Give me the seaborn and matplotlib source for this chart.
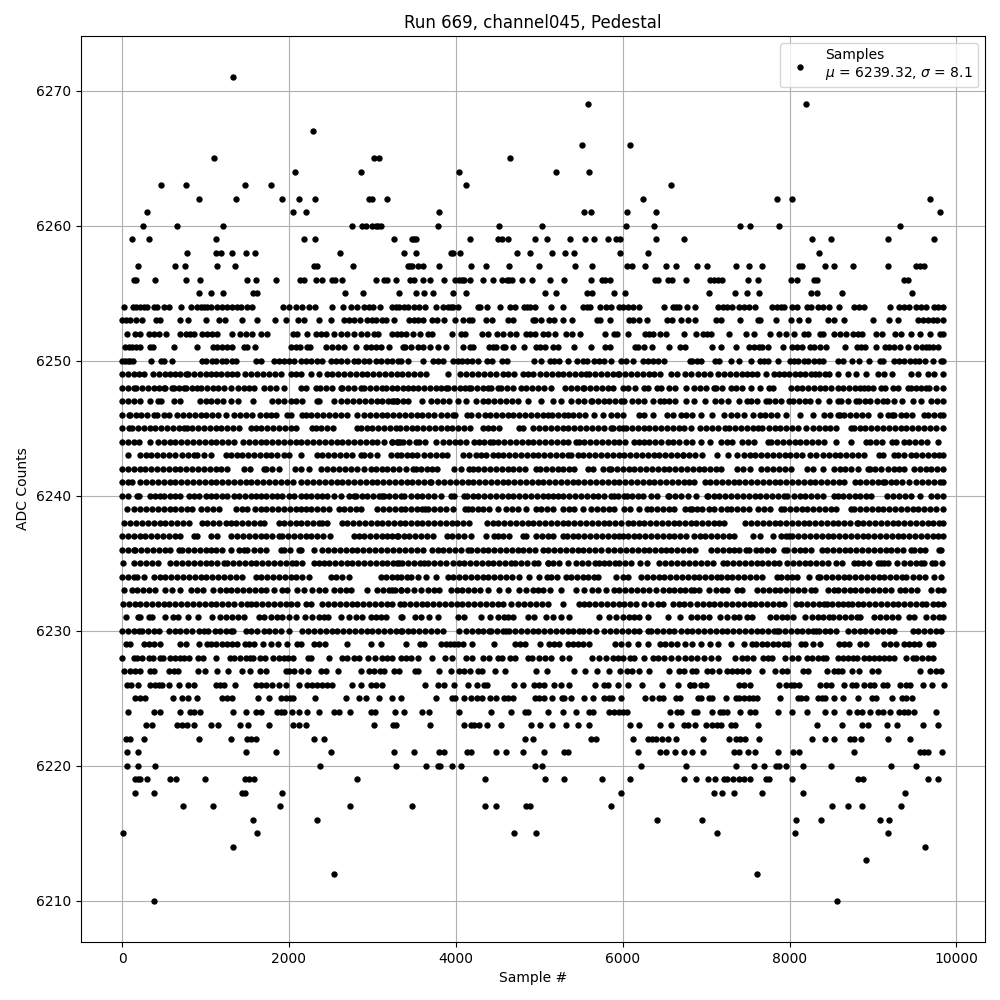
import pandas as pd
import seaborn as sns
import matplotlib
matplotlib.use("Agg")
import matplotlib.pyplot as plt

# Sample numbers seen at each ADC level.
adc_6271 = [1335]
adc_6269 = [5589, 8199]
adc_6267 = [2288]
adc_6266 = [5517, 6093]
adc_6265 = [1100, 3020, 3084, 4653]
adc_6264 = [2072, 2864, 4041, 5205, 5601]
adc_6263 = [464, 764, 1472, 1784, 4125, 6585]
adc_6262 = [920, 1364, 1916, 2120, 2312, 2960, 3000, 3176, 6249, 7851, 8031, 9687]
adc_6261 = [296, 2048, 2204, 3801, 5541, 5625, 6057, 6405, 9807]
adc_6260 = [248, 656, 1208, 2756, 2876, 2924, 3000, 3040, 3072, 3100, 3789, 4521, 5037, 6045, 6381, 7407, 7527, 7875, 9327]
adc_6259 = [116, 320, 1124, 2180, 2312, 3260, 3469, 3501, 3521, 4173, 4501, 4549, 4629, 4953, 5097, 5373, 5553, 5661, 5829, 5925, 5973, 6405, 6729, 8271, 8499, 9183, 9735]
adc_6258 = [776, 1124, 1184, 1316, 1484, 1592, 2612, 3381, 3525, 3941, 3965, 4053, 4737, 4893, 5157, 5313, 5421, 5973, 6309, 8355]
adc_6257 = [188, 632, 752, 1136, 1352, 2300, 2340, 2768, 3421, 3453, 3477, 3549, 3601, 3801, 4185, 4365, 4641, 5001, 5433, 5637, 6057, 6117, 6273, 6525, 6633, 6891, 7011, 7359, 7515, 7671, 8115, 8151, 8427, 8535, 8763, 9183, 9519, 9567, 9615]
adc_6256 = [140, 168, 392, 764, 932, 1496, 1604, 1844, 2132, 2184, 2324, 2400, 2520, 2548, 2640, 3044, 3140, 3172, 3285, 3453, 3501, 3609, 3693, 3861, 3993, 4041, 4073, 4101, 4173, 4329, 4449, 4549, 4613, 4641, 4669, 4797, 4917, 5133, 5301, 5625, 5757, 5789, 5853, 6389, 6421, 6549, 6589, 6753, 7047, 7095, 7143, 7191, 7503, 7623, 8019, 8091, 8295, 8327, 9375, 9423]
adc_6255 = [920, 1064, 1208, 1572, 1612, 2672, 2888, 3321, 3525, 3621, 3729, 3969, 4125, 5073, 5205, 5577, 5637, 5901, 6033, 7035, 7347, 7491, 7635, 8259, 8327, 8631, 9471]
adc_6254 = [20, 128, 172, 220, 260, 300, 380, 420, 508, 560, 704, 824, 896, 940, 980, 1020, 1060, 1140, 1200, 1260, 1320, 1380, 1420, 1500, 1560, 1928, 2000, 2080, 2152, 2240, 2312, 2520, 2648, 2748, 2820, 2900, 2960, 3008, 3092, 3241, 3281, 3321, 3381, 3429, 3493, 3561, 3633, 3761, 3849, 3901, 3941, 3969, 4029, 4261, 4293, 4377, 4533, 4653, 4713, 4813, 4853, 4893, 4953, 5145, 5289, 5521, 5569, 5613, 5733, 5805, 5861, 5953, 6009, 6061, 6129, 6201, 6501, 6601, 6641, 6669, 6765, 6867, 7143, 7199, 7255, 7311, 7395, 7455, 7511, 7587, 7791, 7847, 7895, 7935, 8031, 8095, 8211, 8259, 8343, 8403, 8475, 8595, 8775, 8835, 8887, 9207, 9315, 9375, 9435, 9519, 9575, 9639, 9735, 9783, 9843]
adc_6253 = [0, 52, 100, 172, 240, 412, 452, 692, 784, 1004, 1160, 1228, 1436, 1616, 1832, 1964, 2108, 2180, 2360, 2504, 2660, 2720, 2780, 2852, 2940, 3000, 3040, 3120, 3160, 3261, 3441, 3493, 3549, 3601, 3709, 3777, 3861, 3993, 4089, 4161, 4197, 4365, 4437, 4629, 4685, 4921, 4953, 5025, 5121, 5173, 5289, 5393, 5693, 5733, 5853, 6081, 6125, 6201, 6297, 6537, 6589, 6693, 6783, 6867, 7119, 7183, 7407, 7623, 7647, 7835, 8019, 8115, 8223, 8463, 8535, 8655, 9003, 9195, 9295, 9543, 9599, 9663, 9715, 9767, 9845]
adc_6252 = [60, 160, 212, 320, 380, 440, 532, 700, 760, 812, 860, 960, 1020, 1080, 1140, 1316, 1412, 1480, 1552, 1660, 1740, 2052, 2100, 2212, 2320, 2380, 2440, 2540, 2620, 2700, 2780, 2860, 2940, 3020, 3068, 3241, 3293, 3341, 3401, 3489, 3573, 3661, 3709, 3957, 4061, 4113, 4317, 4389, 4489, 4561, 4653, 4721, 4841, 4893, 4953, 5041, 5101, 5185, 5321, 5393, 5493, 5793, 5901, 5933, 6069, 6273, 6321, 6361, 6453, 6525, 6729, 6879, 6963, 7007, 7059, 7275, 7479, 7575, 7767, 7875, 7963, 8055, 8175, 8223, 8367, 8399, 8535, 8607, 8675, 8763, 8815, 8871, 9039, 9111, 9267, 9335, 9459, 9567, 9687, 9807, 9845]
adc_6251 = [40, 80, 120, 172, 220, 340, 372, 620, 896, 1092, 1140, 1200, 1260, 1320, 1460, 1500, 1592, 2020, 2080, 2128, 2212, 2252, 2444, 2520, 2588, 2660, 2804, 2920, 2980, 3040, 3100, 3204, 3361, 3389, 3465, 3541, 3609, 3693, 3781, 3881, 4089, 4173, 4201, 4401, 4441, 4485, 4561, 4589, 4689, 4821, 4961, 5013, 5073, 5161, 5229, 5413, 5625, 5793, 5853, 6153, 6189, 6261, 6357, 6561, 6681, 6749, 7071, 7179, 7359, 7515, 7575, 7635, 7675, 7743, 7923, 8035, 8095, 8155, 8247, 8295, 8367, 8435, 8667, 8803, 8855, 8907, 9039, 9147, 9195, 9247, 9327, 9415, 9519, 9583, 9635, 9675, 9723, 9783]
adc_6250 = [0, 40, 70, 100, 130, 344, 472, 500, 596, 960, 1000, 1080, 1130, 1200, 1240, 1320, 1360, 1600, 1660, 1820, 1880, 1940, 2000, 2060, 2140, 2200, 2260, 2340, 2400, 2500, 2560, 2620, 2700, 2780, 2830, 2900, 2960, 3040, 3100, 3180, 3241, 3301, 3341, 3421, 3609, 3721, 3781, 3841, 3961, 4021, 4069, 4137, 4197, 4261, 4377, 4437, 4557, 4617, 4941, 5021, 5133, 5181, 5241, 5349, 5453, 5521, 5569, 5661, 5721, 5781, 5861, 5981, 6041, 6121, 6241, 6301, 6361, 6421, 6493, 6801, 6831, 6895, 6943, 7107, 7155, 7299, 7395, 7543, 7647, 7695, 7743, 7859, 8007, 8055, 8103, 8175, 8223, 8295, 8355, 8403, 8583, 8643, 8751, 8835, 8955, 9087, 9123, 9255, 9315, 9367, 9447, 9507, 9555, 9627, 9715, 9819, 9845]
adc_6249 = [0, 70, 140, 200, 260, 368, 440, 510, 570, 640, 700, 760, 790, 860, 930, 1000, 1070, 1120, 1190, 1260, 1320, 1380, 1470, 1550, 1620, 1690, 1760, 1830, 1900, 2030, 2090, 2150, 2260, 2360, 2460, 2520, 2590, 2660, 2730, 2800, 2870, 2940, 3010, 3080, 3150, 3220, 3290, 3360, 3430, 3500, 3570, 3640, 3901, 4050, 4120, 4190, 4270, 4340, 4410, 4480, 4560, 4620, 4700, 4810, 4870, 4930, 5010, 5081, 5150, 5220, 5290, 5360, 5430, 5500, 5561, 5601, 5670, 5740, 5810, 5880, 5941, 5961, 6030, 6100, 6170, 6240, 6321, 6381, 6453, 6581, 6650, 6749, 6815, 6903, 6975, 7047, 7143, 7215, 7285, 7355, 7425, 7495, 7555, 7615, 7715, 7815, 7875, 7935, 7995, 8060, 8125, 8190, 8255, 8307, 8355, 8420, 8475, 8583, 8695, 8795, 8919, 9055, 9135, 9231, 9455, 9535, 9655, 9735, 9835]
adc_6248 = [0, 70, 140, 172, 240, 310, 380, 445, 500, 520, 600, 620, 680, 740, 760, 840, 892, 948, 1015, 1085, 1150, 1220, 1308, 1388, 1460, 1520, 1580, 1700, 1770, 1840, 1940, 2140, 2210, 2320, 2372, 2440, 2510, 2620, 2640, 2710, 2780, 2860, 2900, 2970, 3040, 3120, 3160, 3230, 3300, 3370, 3421, 3481, 3550, 3620, 3690, 3760, 3820, 3881, 3909, 3980, 4050, 4110, 4161, 4181, 4250, 4320, 4381, 4421, 4501, 4541, 4610, 4680, 4781, 4841, 4910, 4980, 5061, 5141, 5309, 5380, 5450, 5521, 5541, 5610, 5680, 5750, 5821, 5881, 6001, 6069, 6153, 6261, 6301, 6413, 6461, 6561, 6621, 6753, 6855, 6927, 7000, 7095, 7115, 7185, 7295, 7355, 7425, 7543, 7647, 7755, 7803, 8015, 8085, 8150, 8220, 8290, 8360, 8430, 8500, 8575, 8640, 8710, 8780, 8840, 8895, 8935, 8995, 9095, 9143, 9235, 9305, 9415, 9455, 9515, 9575, 9635, 9675, 9760, 9835]
adc_6247 = [0, 70, 140, 220, 340, 428, 468, 620, 700, 932, 1004, 1070, 1140, 1210, 1308, 1388, 1572, 1800, 1870, 1940, 2020, 2090, 2160, 2340, 2360, 2540, 2620, 2700, 2770, 2840, 2910, 2980, 3050, 3120, 3190, 3260, 3300, 3233, 3293, 3361, 3431, 3600, 3701, 3770, 3841, 3920, 4021, 4121, 4245, 4321, 4390, 4460, 4530, 4600, 4670, 4740, 4861, 5021, 5161, 5261, 5381, 5461, 5531, 5621, 5629, 5700, 5770, 5840, 5910, 5980, 6021, 6109, 6181, 6250, 6369, 6445, 6501, 6561, 6621, 6761, 6855, 6987, 7107, 7175, 7263, 7395, 7495, 7535, 7605, 7715, 7755, 7825, 7895, 7995, 8047, 8119, 8183, 8247, 8335, 8475, 8575, 8615, 8695, 8795, 8835, 8907, 8967, 9045, 9115, 9167, 9255, 9343, 9475, 9575, 9695, 9771, 9845]
adc_6246 = [0, 80, 100, 170, 228, 300, 380, 420, 500, 560, 660, 730, 800, 870, 940, 1010, 1080, 1150, 1240, 1340, 1412, 1480, 1560, 1652, 1728, 1780, 1850, 1980, 2020, 2160, 2200, 2270, 2340, 2410, 2480, 2550, 2620, 2690, 2820, 2900, 2970, 3040, 3110, 3180, 3250, 3320, 3390, 3460, 3530, 3600, 3670, 3740, 3820, 3900, 3965, 3990, 4133, 4181, 4260, 4349, 4413, 4480, 4550, 4620, 4690, 4760, 4830, 4900, 4970, 5040, 5101, 5149, 5225, 5293, 5341, 5410, 5480, 5550, 5661, 5769, 5861, 5933, 6001, 6201, 6261, 6361, 6533, 6601, 6693, 6760, 6830, 6943, 7075, 7215, 7295, 7375, 7455, 7567, 7640, 7710, 7780, 7850, 7955, 8127, 8279, 8407, 8480, 8575, 8607, 8655, 8730, 8800, 8870, 8935, 9083, 9180, 9223, 9255, 9330, 9400, 9470, 9607, 9655, 9730, 9800, 9845]
adc_6245 = [0, 80, 120, 190, 260, 330, 400, 470, 540, 610, 680, 740, 772, 840, 910, 980, 1050, 1120, 1190, 1260, 1330, 1400, 1540, 1600, 1670, 1740, 1810, 1880, 1950, 2020, 2090, 2280, 2320, 2390, 2460, 2530, 2820, 2860, 2930, 3000, 3070, 3140, 3210, 3280, 3330, 3400, 3470, 3540, 3610, 3680, 3750, 3820, 3890, 3960, 4030, 4100, 4170, 4321, 4381, 4450, 4520, 4761, 4801, 4921, 5000, 5070, 5140, 5210, 5280, 5350, 5420, 5490, 5560, 5630, 5700, 5770, 5861, 5881, 5950, 6001, 6041, 6110, 6180, 6250, 6320, 6390, 6460, 6530, 6600, 6670, 6740, 6820, 6923, 7000, 7070, 7140, 7230, 7275, 7350, 7420, 7490, 7563, 7623, 7675, 7750, 7820, 7890, 7960, 8030, 8100, 8195, 8275, 8350, 8420, 8490, 8560, 8735, 8767, 8840, 8910, 8980, 9050, 9120, 9190, 9260, 9330, 9400, 9470, 9540, 9610, 9680, 9750, 9845]
adc_6244 = [0, 70, 140, 200, 340, 428, 500, 570, 640, 710, 780, 850, 920, 990, 1060, 1130, 1200, 1270, 1340, 1452, 1520, 1590, 1660, 1730, 1800, 1870, 1940, 2010, 2080, 2150, 2220, 2290, 2360, 2430, 2500, 2570, 2640, 2710, 2780, 2850, 2920, 2990, 3060, 3140, 3240, 3300, 3333, 3241, 3301, 3370, 3440, 3521, 3561, 3629, 3761, 3850, 3921, 3990, 4050, 4120, 4221, 4281, 4341, 4413, 4441, 4510, 4580, 4650, 4720, 4790, 4860, 4930, 5000, 5070, 5140, 5210, 5280, 5350, 5441, 5481, 5541, 5610, 5680, 5750, 5820, 5890, 5960, 6030, 6141, 6201, 6260, 6321, 6390, 6460, 6541, 6600, 6680, 6760, 6827, 6943, 7047, 7175, 7245, 7315, 7435, 7500, 7570, 7743, 7783, 7850, 7920, 7990, 8060, 8130, 8200, 8270, 8340, 8410, 8555, 8739, 8919, 8965, 9040, 9110, 9223, 9279, 9367, 9435, 9505, 9575, 9645, 9775]
adc_6243 = [72, 212, 288, 348, 420, 490, 560, 640, 720, 790, 860, 900, 980, 1068, 1240, 1300, 1372, 1440, 1510, 1580, 1650, 1720, 1790, 1860, 1940, 2000, 2140, 2340, 2400, 2470, 2540, 2610, 2680, 2750, 2860, 2900, 2970, 3050, 3220, 3290, 3341, 3410, 3480, 3540, 3620, 3690, 3760, 3830, 3890, 4081, 4160, 4241, 4301, 4361, 4441, 4501, 4570, 4640, 4710, 4780, 4850, 4920, 4990, 5060, 5130, 5200, 5270, 5340, 5381, 5461, 5530, 5600, 5670, 5740, 5810, 5880, 5950, 6020, 6090, 6160, 6230, 6300, 6370, 6440, 6510, 6580, 6650, 6720, 6727, 6800, 6870, 6947, 7127, 7263, 7375, 7450, 7520, 7590, 7660, 7730, 7800, 7870, 7940, 8010, 8080, 8150, 8245, 8315, 8395, 8470, 8540, 8610, 8680, 8750, 8820, 8890, 9075, 9115, 9255, 9295, 9367, 9450, 9520, 9590, 9660, 9730, 9795, 9845]
adc_6242 = [0, 70, 140, 210, 280, 350, 420, 490, 560, 640, 700, 770, 840, 910, 980, 1050, 1120, 1180, 1260, 1460, 1530, 1700, 1730, 1800, 1880, 2072, 2140, 2240, 2388, 2460, 2530, 2600, 2670, 2740, 2820, 2900, 2980, 3040, 3110, 3180, 3250, 3320, 3401, 3481, 3520, 3580, 3650, 3720, 3780, 3981, 4061, 4161, 4201, 4270, 4340, 4410, 4480, 4550, 4620, 4690, 4760, 4830, 4961, 5013, 5080, 5150, 5220, 5290, 5360, 5421, 5581, 5650, 5765, 5841, 5861, 5930, 6000, 6070, 6140, 6210, 6280, 6350, 6420, 6490, 6560, 6630, 6700, 6770, 6840, 6910, 6980, 7050, 7120, 7175, 7375, 7440, 7520, 7655, 7727, 7800, 7870, 7940, 8015, 8215, 8275, 8395, 8527, 8600, 8670, 8740, 8815, 8940, 8960, 9030, 9100, 9175, 9255, 9315, 9375, 9487, 9560, 9630, 9700, 9770, 9845]
adc_6241 = [0, 70, 120, 220, 290, 360, 430, 500, 570, 640, 710, 780, 850, 920, 990, 1060, 1130, 1200, 1270, 1340, 1410, 1480, 1550, 1620, 1690, 1760, 1830, 1900, 1980, 2050, 2140, 2220, 2290, 2360, 2430, 2500, 2570, 2640, 2710, 2780, 2850, 2920, 2990, 3060, 3130, 3200, 3270, 3340, 3410, 3480, 3550, 3620, 3690, 3701, 3790, 3860, 3930, 4000, 4070, 4140, 4210, 4280, 4350, 4420, 4490, 4560, 4630, 4700, 4770, 4840, 4910, 4980, 5050, 5120, 5190, 5260, 5330, 5400, 5470, 5540, 5610, 5680, 5750, 5820, 5890, 5960, 6030, 6100, 6170, 6240, 6310, 6380, 6450, 6520, 6590, 6660, 6730, 6800, 6860, 6983, 7050, 7120, 7190, 7260, 7330, 7400, 7470, 7540, 7610, 7680, 7750, 7820, 7890, 7960, 8030, 8100, 8170, 8240, 8310, 8380, 8450, 8520, 8590, 8655, 8783, 8850, 8920, 8990, 9060, 9115, 9143, 9210, 9280, 9350, 9430, 9515, 9590, 9660, 9730, 9800, 9845]
adc_6240 = [0, 70, 180, 200, 332, 400, 452, 500, 580, 640, 700, 800, 860, 920, 1000, 1060, 1120, 1200, 1260, 1340, 1400, 1470, 1540, 1600, 1660, 1720, 1800, 1860, 1920, 2000, 2060, 2140, 2200, 2260, 2340, 2400, 2460, 2540, 2620, 2720, 2780, 2800, 2870, 2940, 3010, 3080, 3120, 3140, 3200, 3270, 3340, 3381, 3461, 3530, 3600, 3670, 3740, 3821, 3941, 3980, 4100, 4133, 4200, 4270, 4340, 4410, 4480, 4550, 4620, 4690, 4760, 4830, 4900, 4970, 5040, 5110, 5161, 5230, 5281, 5361, 5430, 5500, 5570, 5640, 5710, 5780, 5860, 5900, 5941, 6021, 6053, 6113, 6181, 6241, 6341, 6410, 6540, 6561, 6630, 6700, 6780, 6875, 7015, 7020, 7090, 7160, 7230, 7300, 7370, 7440, 7510, 7580, 7650, 7720, 7790, 7860, 7935, 7975, 8050, 8120, 8190, 8260, 8330, 8400, 8535, 8575, 8640, 8710, 8780, 8850, 8920, 8980, 9167, 9240, 9310, 9380, 9450, 9560, 9695, 9770, 9845]
adc_6239 = [60, 140, 220, 292, 360, 430, 500, 570, 640, 710, 780, 840, 948, 1020, 1090, 1160, 1360, 1440, 1500, 1590, 1660, 1730, 1800, 1870, 1940, 2010, 2080, 2140, 2200, 2270, 2340, 2410, 2480, 2600, 2660, 2730, 2800, 2860, 3060, 3130, 3200, 3270, 3340, 3390, 3460, 3530, 3600, 3630, 3670, 3740, 3810, 3880, 3961, 4109, 4149, 4189, 4261, 4330, 4400, 4500, 4601, 4670, 4740, 4840, 4961, 5021, 5090, 5165, 5281, 5361, 5413, 5530, 5621, 5690, 5760, 5830, 5900, 6021, 6093, 6201, 6293, 6341, 6410, 6480, 6550, 6620, 6741, 6807, 6827, 6895, 6955, 7030, 7100, 7180, 7255, 7295, 7370, 7440, 7515, 7623, 7695, 7765, 7895, 7935, 8005, 8075, 8145, 8215, 8285, 8355, 8425, 8495, 8555, 8735, 8775, 8845, 8915, 8985, 9055, 9125, 9195, 9265, 9335, 9405, 9475, 9545, 9615, 9685, 9755, 9845]
adc_6238 = [20, 100, 170, 240, 310, 380, 450, 520, 590, 660, 730, 800, 960, 1020, 1090, 1160, 1240, 1300, 1370, 1440, 1510, 1580, 1650, 1700, 1880, 1940, 2010, 2080, 2150, 2220, 2290, 2360, 2400, 2460, 2640, 2700, 2770, 2840, 2910, 2980, 3050, 3120, 3190, 3260, 3330, 3390, 3460, 3530, 3600, 3670, 3740, 3810, 3880, 3950, 4020, 4090, 4161, 4373, 4440, 4510, 4581, 4653, 4721, 4790, 4860, 4930, 5000, 5070, 5140, 5210, 5280, 5350, 5420, 5490, 5560, 5630, 5700, 5770, 5840, 5910, 5980, 6069, 6121, 6190, 6260, 6330, 6400, 6470, 6540, 6610, 6680, 6750, 6820, 6880, 6950, 7020, 7090, 7160, 7215, 7467, 7543, 7610, 7680, 7750, 7820, 7890, 7960, 8030, 8100, 8175, 8235, 8305, 8375, 8445, 8520, 8575, 8650, 8720, 8810, 8815, 8885, 8955, 9025, 9095, 9165, 9235, 9305, 9375, 9445, 9515, 9585, 9655, 9725, 9795, 9845]
adc_6237 = [0, 70, 140, 210, 280, 350, 420, 490, 560, 630, 700, 860, 900, 1060, 1140, 1308, 1380, 1450, 1520, 1590, 1660, 1730, 1800, 1880, 1920, 1990, 2060, 2130, 2200, 2270, 2340, 2410, 2490, 2780, 2840, 2900, 2970, 3040, 3110, 3180, 3292, 3241, 3309, 3381, 3441, 3510, 3580, 3650, 3730, 3893, 3960, 4030, 4100, 4180, 4361, 4461, 4501, 4570, 4640, 4801, 4841, 4961, 5030, 5100, 5170, 5281, 5333, 5400, 5470, 5540, 5610, 5680, 5750, 5820, 5890, 5960, 6001, 6061, 6130, 6200, 6270, 6340, 6410, 6480, 6550, 6620, 6690, 6760, 6855, 6923, 6990, 7060, 7130, 7200, 7270, 7335, 7567, 7640, 7807, 7900, 7955, 7995, 8035, 8105, 8175, 8245, 8315, 8385, 8455, 8525, 8595, 8665, 8735, 8805, 8875, 8945, 9015, 9085, 9155, 9225, 9295, 9365, 9435, 9505, 9575, 9645, 9715, 9785, 9845]
adc_6236 = [0, 70, 140, 160, 230, 300, 370, 440, 510, 580, 680, 720, 790, 860, 930, 1000, 1060, 1130, 1200, 1300, 1400, 1460, 1500, 1580, 1650, 1720, 1900, 1940, 2010, 2120, 2140, 2300, 2400, 2470, 2540, 2610, 2680, 2750, 2820, 2890, 2960, 3030, 3100, 3180, 3250, 3321, 3390, 3460, 3530, 3610, 3709, 3781, 3850, 3920, 3989, 4060, 4149, 4181, 4250, 4320, 4390, 4460, 4530, 4600, 4670, 4740, 4810, 4880, 4950, 5041, 5110, 5180, 5250, 5320, 5390, 5460, 5530, 5600, 5670, 5740, 5821, 5901, 5970, 6040, 6110, 6180, 6250, 6320, 6390, 6460, 6521, 6581, 6650, 6720, 6790, 6863, 7063, 7130, 7200, 7270, 7340, 7400, 7475, 7515, 7595, 7663, 7730, 7800, 7935, 7975, 8050, 8120, 8190, 8255, 8383, 8450, 8520, 8590, 8660, 8730, 8800, 8870, 8940, 9010, 9080, 9150, 9220, 9290, 9360, 9455, 9487, 9560, 9625, 9795, 9810]
adc_6235 = [12, 140, 220, 290, 360, 430, 580, 650, 720, 790, 860, 930, 1000, 1070, 1140, 1220, 1260, 1330, 1400, 1470, 1540, 1610, 1680, 1750, 1820, 1890, 1960, 2040, 2088, 2160, 2300, 2360, 2420, 2480, 2550, 2620, 2690, 2760, 2830, 2900, 2970, 3040, 3110, 3180, 3250, 3321, 3290, 3360, 3430, 3500, 3570, 3621, 3669, 3740, 3810, 3880, 3961, 4033, 4100, 4170, 4240, 4310, 4380, 4450, 4520, 4590, 4661, 4709, 4780, 4850, 4933, 4989, 5101, 5103, 5170, 5240, 5341, 5441, 5510, 5580, 5669, 5721, 5781, 5841, 5909, 5960, 6030, 6100, 6213, 6293, 6441, 6510, 6580, 6650, 6720, 6800, 6870, 6940, 7010, 7080, 7207, 7255, 7325, 7395, 7465, 7535, 7605, 7675, 7745, 7815, 7875, 7975, 8040, 8110, 8180, 8250, 8320, 8390, 8455, 8555, 8627, 8775, 8815, 8885, 8955, 9095, 9063, 9135, 9183, 9287, 9375, 9445, 9515, 9575, 9615, 9703, 9743, 9830]
adc_6234 = [0, 70, 140, 180, 268, 380, 450, 520, 590, 660, 730, 800, 870, 940, 1010, 1080, 1150, 1220, 1290, 1360, 1440, 1600, 1670, 1740, 1810, 1880, 1950, 2020, 2090, 2160, 2240, 2500, 2560, 2630, 2720, 3100, 3160, 3230, 3300, 3340, 3410, 3461, 3541, 3641, 3761, 3901, 3970, 4040, 4110, 4180, 4250, 4320, 4390, 4460, 4530, 4600, 4670, 4760, 4881, 4993, 5093, 5141, 5213, 5320, 5381, 5450, 5520, 5590, 5661, 5709, 5921, 6001, 6061, 6221, 6290, 6360, 6430, 6500, 6570, 6640, 6710, 6780, 6850, 6920, 6990, 7060, 7127, 7175, 7245, 7315, 7385, 7455, 7525, 7595, 7675, 7847, 7895, 7965, 8035, 8095, 8235, 8335, 8367, 8437, 8507, 8577, 8647, 8717, 8787, 8857, 8927, 8997, 9067, 9137, 9207, 9277, 9343, 9395, 9475, 9550, 9620, 9735, 9815]
adc_6233 = [20, 120, 180, 250, 320, 392, 520, 600, 700, 820, 900, 970, 1092, 1172, 1240, 1310, 1380, 1450, 1520, 1590, 1660, 1720, 1820, 1920, 1980, 2100, 2180, 2280, 2360, 2430, 2540, 2610, 2680, 2740, 2940, 3060, 3130, 3200, 3270, 3340, 3241, 3341, 3413, 3501, 3581, 3661, 3741, 3801, 3941, 4009, 4080, 4150, 4220, 4290, 4381, 4521, 4629, 4761, 4841, 4921, 4981, 5050, 5133, 5261, 5441, 5540, 5629, 5701, 5801, 5901, 5961, 6030, 6100, 6170, 6240, 6321, 6405, 6481, 6550, 6620, 6690, 6741, 6815, 6855, 6915, 7035, 7115, 7185, 7255, 7367, 7435, 7607, 7680, 7750, 7820, 7890, 7960, 8030, 8100, 8175, 8255, 8307, 8455, 8535, 8583, 8650, 8720, 8790, 8860, 8930, 9000, 9070, 9140, 9210, 9327, 9383, 9455, 9530, 9695, 9775, 9845]
adc_6232 = [12, 80, 150, 220, 290, 360, 430, 500, 560, 640, 710, 780, 850, 920, 990, 1060, 1130, 1200, 1270, 1340, 1420, 1500, 1540, 1610, 1680, 1750, 1820, 1890, 1960, 2030, 2100, 2200, 2260, 2400, 2470, 2540, 2610, 2680, 2750, 2820, 2890, 2960, 3030, 3100, 3170, 3240, 3330, 3380, 3450, 3520, 3590, 3660, 3730, 3800, 3870, 3940, 4010, 4080, 4150, 4220, 4290, 4360, 4430, 4500, 4570, 4661, 4741, 4821, 4893, 4961, 5030, 5101, 5281, 5481, 5541, 5601, 5670, 5740, 5810, 5880, 5950, 6020, 6090, 6160, 6261, 6341, 6421, 6481, 6601, 6670, 6740, 6810, 6890, 6960, 7030, 7100, 7170, 7240, 7310, 7380, 7450, 7520, 7590, 7660, 7730, 7800, 7870, 7935, 8075, 8140, 8210, 8280, 8350, 8415, 8447, 8510, 8580, 8640, 8700, 8743, 8815, 8885, 8955, 9025, 9095, 9165, 9235, 9305, 9375, 9445, 9515, 9585, 9635, 9715, 9783, 9845]
adc_6231 = [44, 188, 220, 320, 360, 512, 612, 672, 792, 908, 1080, 1172, 1240, 1320, 1388, 1460, 1640, 1700, 1780, 1860, 1920, 2000, 2080, 2192, 2280, 2360, 2420, 2468, 2620, 2720, 2800, 2880, 2980, 3040, 3100, 3160, 3340, 3357, 3509, 3581, 3681, 3789, 4021, 4093, 4305, 4413, 4500, 4581, 4629, 4681, 4869, 4941, 5081, 5160, 5261, 5361, 5721, 5841, 5921, 6000, 6070, 6140, 6201, 6301, 6549, 6681, 6813, 6890, 6967, 7035, 7167, 7255, 7335, 7400, 7495, 7555, 7767, 7835, 7905, 7975, 8047, 8183, 8263, 8335, 8405, 8475, 8515, 8590, 8665, 8735, 8805, 8847, 9015, 9085, 9155, 9225, 9295, 9435, 9495, 9635, 9715, 9795, 9845]
adc_6230 = [0, 70, 140, 200, 240, 310, 380, 440, 560, 630, 700, 770, 840, 920, 980, 1030, 1110, 1172, 1240, 1300, 1332, 1480, 1550, 1620, 1700, 1760, 1830, 1900, 2000, 2160, 2230, 2300, 2370, 2440, 2510, 2580, 2650, 2720, 2790, 2860, 2930, 3000, 3070, 3140, 3210, 3280, 3340, 3360, 3421, 3481, 3561, 3630, 3700, 3780, 3841, 4041, 4121, 4190, 4260, 4321, 4400, 4421, 4490, 4560, 4601, 4641, 4710, 4780, 4850, 4920, 4990, 5060, 5130, 5200, 5270, 5340, 5410, 5480, 5521, 5601, 5681, 5781, 5850, 5920, 5990, 6060, 6130, 6200, 6301, 6341, 6410, 6480, 6550, 6620, 6695, 6765, 6835, 6905, 6975, 7045, 7115, 7185, 7255, 7325, 7395, 7465, 7535, 7605, 7675, 7745, 7815, 7855, 7875, 7945, 8015, 8085, 8155, 8225, 8275, 8315, 8355, 8420, 8490, 8555, 8695, 8770, 8840, 8910, 8980, 9050, 9120, 9190, 9255, 9475, 9545, 9615, 9685, 9755, 9815]
adc_6229 = [52, 100, 260, 320, 380, 452, 700, 760, 920, 1012, 1060, 1120, 1200, 1260, 1320, 1372, 1468, 1520, 1580, 1688, 1788, 1868, 1972, 2100, 2140, 2300, 2360, 2428, 2696, 2984, 3104, 3405, 3573, 3613, 3821, 3881, 3933, 3981, 4021, 4081, 4193, 4461, 4713, 4769, 4833, 5013, 5121, 5181, 5241, 5341, 5401, 5461, 5521, 5601, 5913, 5981, 6069, 6189, 6309, 6453, 6509, 6581, 6653, 6747, 6835, 6935, 7047, 7143, 7299, 7455, 7551, 7595, 7675, 7727, 7807, 7863, 7935, 7983, 8143, 8183, 8283, 8363, 8595, 8655, 8707, 8847, 8919, 9135, 9207, 9279, 9367, 9435, 9495, 9555, 9675, 9723]
adc_6228 = [0, 140, 180, 236, 320, 372, 452, 492, 572, 640, 700, 740, 800, 912, 964, 1128, 1292, 1340, 1408, 1488, 1528, 1568, 1652, 1708, 1808, 1880, 1940, 1988, 2048, 2228, 2268, 2480, 2640, 2700, 2780, 2840, 2948, 3032, 3120, 3180, 3241, 3341, 3401, 3461, 3541, 3717, 3873, 3953, 4125, 4193, 4329, 4401, 4501, 4549, 4653, 4709, 4869, 4917, 5001, 5069, 5141, 5277, 5361, 5637, 5721, 5801, 5881, 5941, 6009, 6093, 6141, 6261, 6361, 6421, 6501, 6581, 6661, 6741, 6815, 6895, 6975, 7063, 7143, 7347, 7435, 7495, 7563, 7683, 7743, 7795, 7947, 8031, 8103, 8211, 8271, 8335, 8395, 8435, 8575, 8635, 8695, 8755, 8811, 8895, 8955, 9015, 9075, 9135, 9195, 9255, 9399, 9475, 9515, 9583, 9655, 9715]
adc_6227 = [20, 100, 160, 212, 332, 380, 560, 620, 668, 908, 988, 1136, 1268, 1436, 1532, 1652, 1720, 1960, 2000, 2060, 2140, 2228, 2380, 2444, 2588, 2860, 2960, 3020, 3092, 3140, 3261, 3321, 3513, 3549, 3801, 3945, 4041, 4101, 4173, 4261, 4317, 4473, 4593, 4965, 5097, 5421, 5553, 5697, 5841, 5973, 6057, 6117, 6201, 6321, 6561, 6669, 6735, 6835, 6883, 7015, 7075, 7155, 7255, 7315, 7375, 7427, 7503, 7671, 7827, 7915, 7967, 8163, 8223, 8451, 8535, 8583, 8631, 8751, 8835, 8991, 9063, 9567, 9687, 9755, 9815]
adc_6226 = [60, 108, 188, 340, 400, 440, 484, 560, 680, 788, 860, 1120, 1172, 1220, 1352, 1600, 1660, 1728, 1796, 1880, 1968, 2120, 2220, 2280, 2340, 2400, 2460, 2520, 2760, 2864, 2980, 3040, 3120, 3633, 3789, 3861, 3981, 4149, 4257, 4341, 4369, 4701, 4809, 4941, 5001, 5061, 5181, 5265, 5361, 5669, 5781, 5829, 5945, 6069, 6237, 6477, 6657, 6801, 6807, 6855, 6935, 6995, 7395, 7455, 7523, 7875, 7959, 8015, 8055, 8115, 8367, 8435, 8495, 8655, 8751, 8795, 8895, 8967, 9015, 9115, 9167, 9327, 9395, 9447, 9603, 9711, 9850]
adc_6225 = [160, 220, 272, 608, 716, 788, 896, 1192, 1260, 1320, 1632, 1760, 1904, 1960, 2008, 2052, 2312, 2684, 2840, 2924, 3080, 3241, 3345, 3765, 3957, 3993, 4101, 4185, 4257, 4309, 4413, 4485, 4581, 4629, 4689, 4953, 5001, 5061, 5157, 5277, 5301, 5385, 5541, 5649, 5781, 5841, 5869, 5985, 6273, 6357, 6441, 6481, 6633, 6681, 6903, 6935, 7035, 7075, 7239, 7355, 7395, 7455, 7515, 7563, 7607, 7887, 8103, 8143, 8199, 8343, 8383, 8427, 8531, 8643, 8823, 8991, 9039, 9231, 9351, 9395, 9471]
adc_6224 = [76, 380, 460, 692, 812, 860, 932, 1328, 1488, 1604, 1660, 1860, 1900, 1940, 2036, 2120, 2220, 2360, 2540, 2600, 2732, 2984, 3032, 3273, 3381, 3597, 3681, 4041, 4425, 4665, 4833, 4869, 5109, 5289, 5445, 5601, 5649, 5841, 5901, 5961, 6009, 6053, 6573, 6653, 6693, 6855, 6895, 7071, 7167, 7207, 7255, 7407, 7527, 7591, 7867, 8031, 8211, 8427, 8535, 8715, 8807, 8867, 8963, 9063, 9123, 9207, 9315, 9367, 9415, 9495, 9755]
adc_6223 = [284, 356, 656, 720, 780, 860, 1064, 1148, 1412, 1508, 1760, 2048, 2120, 2204, 3020, 3249, 3281, 3693, 4101, 4181, 4213, 4281, 4377, 4545, 4905, 5013, 5157, 5325, 5469, 5601, 6093, 6201, 6453, 6585, 6735, 6783, 6867, 6999, 7075, 7127, 7183, 7299, 7347, 7623, 8331, 8631, 8871, 8943, 9171, 9291, 9603, 9783]
adc_6222 = [44, 92, 260, 920, 1304, 1492, 1540, 1604, 2300, 2420, 4833, 4929, 5625, 5685, 6129, 6309, 6357, 6405, 6477, 6549, 6633, 6963, 7279, 7355, 7407, 7467, 7635, 8271, 8427, 8535, 8727, 8775, 8855, 9183, 9447]
adc_6221 = [56, 192, 1484, 1844, 2500, 3261, 3501, 3801, 3861, 4137, 4185, 4485, 4605, 4809, 5061, 5301, 5341, 6189, 6453, 6517, 6621, 6729, 6831, 6963, 7335, 7395, 7503, 7583, 7863, 8043, 8115, 8775, 9567, 9615, 9663, 9831]
adc_6220 = [56, 188, 392, 2372, 3285, 3645, 3789, 3809, 3957, 4065, 4953, 5037, 6225, 6753, 7359, 7575, 7695, 7839, 7875, 7959, 8163, 8499, 9219, 9519]
adc_6219 = [152, 188, 220, 296, 572, 644, 992, 1472, 1520, 1580, 2816, 4353, 5073, 5301, 5757, 6093, 6729, 6879, 7023, 7107, 7215, 7255, 7323, 7395, 7455, 7527, 7719, 7755, 8031, 8815, 8875, 9663, 9783]
adc_6218 = [152, 380, 1436, 1472, 1916, 5985, 7095, 7191, 7335, 7671, 8163, 9387]
adc_6217 = [728, 1088, 1892, 2732, 3477, 4353, 4485, 4845, 4893, 5865, 8511, 8703, 8871, 9339]
adc_6216 = [1568, 2336, 6417, 6951, 8079, 8379, 9087, 9195]
adc_6215 = [8, 1616, 4701, 4965, 7131, 8067, 9183]
adc_6214 = [1328, 9627]
adc_6213 = [8919]
adc_6212 = [2540, 7611]
adc_6210 = [380, 8571]

LEVELS = {
    6271: adc_6271, 6269: adc_6269, 6267: adc_6267, 6266: adc_6266, 6265: adc_6265,
    6264: adc_6264, 6263: adc_6263, 6262: adc_6262, 6261: adc_6261, 6260: adc_6260,
    6259: adc_6259, 6258: adc_6258, 6257: adc_6257, 6256: adc_6256, 6255: adc_6255,
    6254: adc_6254, 6253: adc_6253, 6252: adc_6252, 6251: adc_6251, 6250: adc_6250,
    6249: adc_6249, 6248: adc_6248, 6247: adc_6247, 6246: adc_6246, 6245: adc_6245,
    6244: adc_6244, 6243: adc_6243, 6242: adc_6242, 6241: adc_6241, 6240: adc_6240,
    6239: adc_6239, 6238: adc_6238, 6237: adc_6237, 6236: adc_6236, 6235: adc_6235,
    6234: adc_6234, 6233: adc_6233, 6232: adc_6232, 6231: adc_6231, 6230: adc_6230,
    6229: adc_6229, 6228: adc_6228, 6227: adc_6227, 6226: adc_6226, 6225: adc_6225,
    6224: adc_6224, 6223: adc_6223, 6222: adc_6222, 6221: adc_6221, 6220: adc_6220,
    6219: adc_6219, 6218: adc_6218, 6217: adc_6217, 6216: adc_6216, 6215: adc_6215,
    6214: adc_6214, 6213: adc_6213, 6212: adc_6212, 6210: adc_6210,
}


def build_frame() -> pd.DataFrame:
    frames = [pd.DataFrame({"sample": xs, "adc": level}) for level, xs in LEVELS.items()]
    return pd.concat(frames, ignore_index = True)


def pedestal_plot(df: pd.DataFrame) -> None:
    fig, ax = plt.subplots(figsize = (10, 10))
    ax.grid(True)
    sns.scatterplot(
        data = df,
        x = "sample",
        y = "adc",
        ax = ax,
        color = "black",
        marker = "o",
        s = 21,
        linewidth = 0,
        zorder = 2,
        label = "Samples\n$\\mu$ = 6239.32, $\\sigma$ = 8.1"
    )
    ax.set_title("Run 669, channel045, Pedestal")
    ax.set_xlabel("Sample #")
    ax.set_ylabel("ADC Counts")
    ax.legend(loc = "upper right")
    fig.subplots_adjust(left = 0.081, right = 0.985, top = 0.964, bottom = 0.058)
    fig.savefig("out.png", dpi = 100)


if __name__ == "__main__":
    pedestal_plot(build_frame())
